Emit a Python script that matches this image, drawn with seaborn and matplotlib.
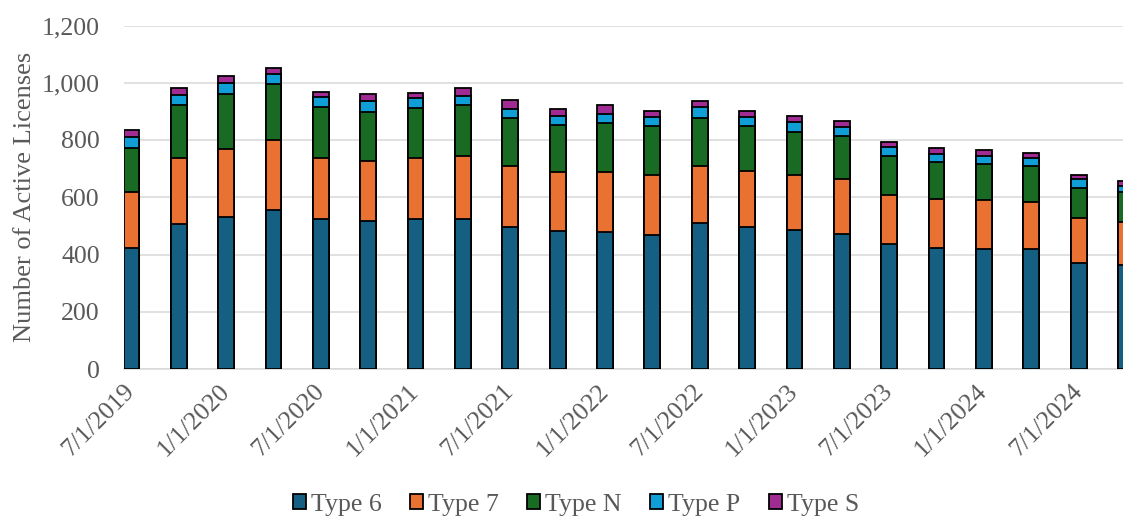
import numpy as np
import pandas as pd
import matplotlib
matplotlib.use("Agg")
import matplotlib.pyplot as plt
import seaborn as sns
from matplotlib.patches import Patch
from matplotlib.ticker import FuncFormatter

# Quarterly snapshot dates
dates = [
    "2019-07-01", "2019-10-01", "2020-01-01", "2020-04-01", "2020-07-01", "2020-10-01",
    "2021-01-01", "2021-04-01", "2021-07-01", "2021-10-01", "2022-01-01", "2022-04-01",
    "2022-07-01", "2022-10-01", "2023-01-01", "2023-04-01", "2023-07-01", "2023-10-01",
    "2024-01-01", "2024-04-01", "2024-07-01", "2024-10-01",
]

# Active licenses by type
type_6 = [421, 506, 532, 557, 525, 518, 525, 525, 496, 482, 480,
          469, 511, 496, 484, 473, 436, 422, 419, 419, 370, 364]
type_7 = [197, 232, 238, 244, 212, 208, 213, 220, 212, 207, 209,
          210, 197, 194, 193, 190, 173, 173, 171, 164, 158, 150]
type_n = [155, 183, 191, 194, 177, 173, 173, 176, 169, 162, 169,
          169, 169, 158, 152, 151, 136, 127, 126, 126, 106, 103]
type_p = [36, 35, 38, 35, 35, 36, 36, 34, 32, 32, 33,
          32, 37, 32, 33, 33, 29, 29, 29, 29, 29, 24]
type_s = [25, 27, 26, 23, 20, 25, 18, 26, 31, 26, 30,
          22, 22, 22, 22, 18, 20, 20, 20, 18, 16, 15]

series_names = ["Type 6", "Type 7", "Type N", "Type P", "Type S"]
series_colors = ["#156082", "#E97132", "#196B24", "#0F9ED5", "#A02B93"]

tick_labels = ["7/1/2019", "1/1/2020", "7/1/2020", "1/1/2021", "7/1/2021", "1/1/2022",
               "7/1/2022", "1/1/2023", "7/1/2023", "1/1/2024", "7/1/2024"]

TEXT = "#595959"
GRID = "#D9D9D9"
FS = 18.6

sns.set_theme(style="white")
plt.rcParams["font.family"] = ["Liberation Serif", "DejaVu Serif"]


def month_index(ts):
    ts = pd.Timestamp(ts)
    return (ts.year - 2019) * 12 + ts.month - 7


months = np.array([month_index(d) for d in dates], dtype=float)
# each bar occupies its whole month on the date axis
bar_x = months + 0.5

values = np.array([type_6, type_7, type_n, type_p, type_s], dtype=float)
stack_tops = np.cumsum(values, axis=0)

fig = plt.figure(figsize=(11.23, 5.18), dpi=100)
ax = fig.add_axes([123.5 / 1123, 149 / 518, 1 - 123.5 / 1123, (369 - 25.5) / 518])

# draw the stacked totals from the top down so each lower layer covers the one above
for i in reversed(range(len(series_names))):
    df = pd.DataFrame({"x": bar_x, "top": stack_tops[i]})
    sns.barplot(data=df, x="x", y="top", native_scale=True, width=1 / 3,
                color=series_colors[i], saturation=1, edgecolor="black",
                linewidth=1.3, errorbar=None, ax=ax, zorder=3)

ax.set_ylim(0, 1200)
ax.set_yticks(np.arange(0, 1201, 200))
ax.yaxis.set_major_formatter(FuncFormatter(lambda v, p: f"{int(v):,}"))
xmax = (1123 - 123.5) / 15.787
ax.set_xlim(0, xmax)

tick_pos = [month_index(pd.to_datetime(t, format="%m/%d/%Y")) for t in tick_labels]
ax.set_xticks(tick_pos)
ax.set_xticklabels(tick_labels, rotation=45, ha="right", va="top",
                   rotation_mode="anchor")

ax.grid(axis="y", color=GRID, linewidth=1.1, zorder=0)
ax.grid(axis="x", visible=False)
ax.set_axisbelow(True)
for side in ["left", "right", "top"]:
    ax.spines[side].set_visible(False)
ax.spines["bottom"].set_color(GRID)
ax.spines["bottom"].set_linewidth(1.1)

ax.tick_params(axis="y", length=0, pad=17, labelsize=FS, labelcolor=TEXT)
ax.tick_params(axis="x", length=5, width=1.1, color=GRID, direction="out",
               pad=3, labelsize=FS, labelcolor=TEXT)

ax.set_xlabel("")
ax.set_ylabel("Number of Active Licenses", fontsize=19, color=TEXT)
ax.yaxis.set_label_coords(-0.088, 0.5)

handles = [Patch(facecolor=c, edgecolor="black", linewidth=1.3, label=n)
           for n, c in zip(series_names, series_colors)]
fig.legend(handles=handles, loc="center", bbox_to_anchor=(576 / 1123, 1 - 505 / 518),
           ncol=5, frameon=False, fontsize=FS, labelcolor=TEXT,
           handlelength=0.5, handleheight=0.5, handletextpad=0.2,
           columnspacing=1.1, borderaxespad=0)

fig.savefig("out.png", dpi=100)
